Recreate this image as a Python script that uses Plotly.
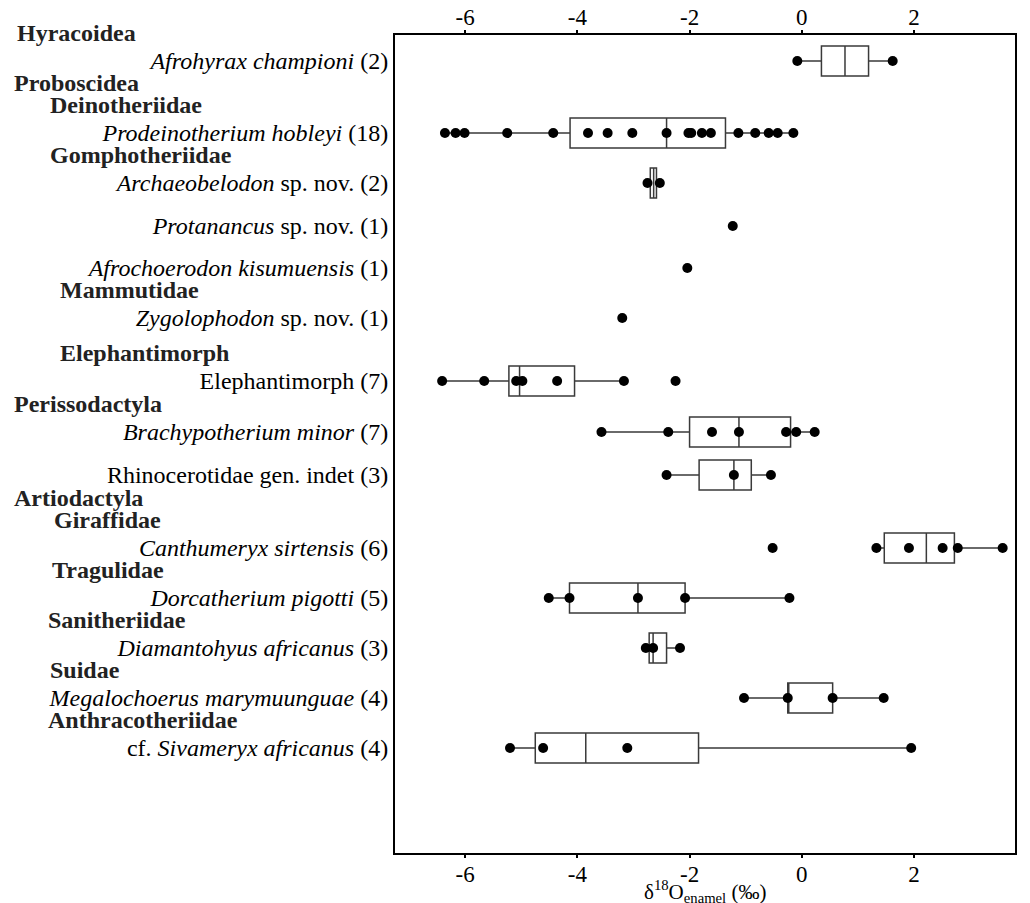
import plotly.graph_objects as go

# ---------------- data ----------------
species = [
    "<i>Afrohyrax championi</i> (2)",
    "<i>Prodeinotherium hobleyi</i> (18)",
    "<i>Archaeobelodon</i> sp. nov. (2)",
    "<i>Protanancus</i> sp. nov. (1)",
    "<i>Afrochoerodon kisumuensis</i> (1)",
    "<i>Zygolophodon</i> sp. nov. (1)",
    "Elephantimorph (7)",
    "<i>Brachypotherium minor</i> (7)",
    "Rhinocerotidae gen. indet (3)",
    "<i>Canthumeryx sirtensis</i> (6)",
    "<i>Dorcatherium pigotti</i> (5)",
    "<i>Diamantohyus africanus</i> (3)",
    "<i>Megalochoerus marymuunguae</i> (4)",
    "cf. <i>Sivameryx africanus</i> (4)",
]

# headers shown above each species row: (order-level, family-level)
order_headers = ["Hyracoidea", "Proboscidea", "", "", "", "", "", "Perissodactyla", "",
                 "Artiodactyla", "", "", "", ""]
family_headers = ["", "Deinotheriidae", "Gomphotheriidae", "", "", "Mammutidae", "Elephantimorph",
                  "", "", "Giraffidae", "Tragulidae", "Sanitheriidae", "Suidae", "Anthracotheriidae"]

values = [
    [-0.08, 1.62],
    [-6.36, -6.17, -6.01, -5.25, -4.43, -3.81, -3.46, -3.02, -2.41, -2.02, -1.97, -1.78, -1.62,
     -1.13, -0.83, -0.59, -0.43, -0.15],
    [-2.75, -2.53],
    [-1.23],
    [-2.04],
    [-3.20],
    [-6.41, -5.66, -5.09, -4.98, -4.36, -3.17, -2.25],
    [-3.57, -2.38, -1.60, -1.12, -0.28, -0.10, 0.23],
    [-2.41, -1.21, -0.55],
    [-0.52, 1.33, 1.91, 2.51, 2.78, 3.58],
    [-4.51, -4.14, -2.92, -2.08, -0.22],
    [-2.78, -2.65, -2.17],
    [-1.03, -0.25, 0.55, 1.46],
    [-5.20, -4.61, -3.11, 1.95],
]

# box statistics (None = no box drawn)
box_q1 = [0.35, -4.13, -2.70, None, None, None, -5.22, -2.00, -1.83, 1.47, -4.14, -2.72, -0.25, -4.75]
box_med = [0.77, -2.41, -2.64, None, None, None, -5.03, -1.12, -1.21, 2.22, -2.92, -2.65, -0.25, -3.85]
box_q3 = [1.19, -1.36, -2.59, None, None, None, -4.05, -0.20, -0.90, 2.72, -2.08, -2.41, 0.55, -1.84]
box_lo = [-0.08, -6.36, -2.75, None, None, None, -6.41, -3.57, -2.41, 1.33, -4.51, -2.78, -1.03, -5.20]
box_hi = [1.62, -0.15, -2.53, None, None, None, -3.17, 0.23, -0.55, 3.58, -0.22, -2.17, 1.46, 1.95]

x_ticks = [-6, -4, -2, 0, 2]

# ---------------- layout (rows in pixel-like units) ----------------
row_pos = [61, 133, 183, 226, 268, 318, 381, 432, 475, 548, 598, 648, 698, 748]
order_x = [15, 12, 12, 12, 12, 12, 12, 12, 12, 12, 12, 12, 12, 12]
family_x = [48, 48, 48, 48, 48, 58, 58, 52, 52, 52, 50, 46, 48, 46]

FONT = "Liberation Serif"
L, R, T, B = 395, 15, 35, 50
W, H = 1030, 903
pw = W - L - R
yr = [H - B, T]          # reversed y range in the same px-like units


def ypaper(v):
    return (yr[0] - v) / (yr[0] - yr[1])


fig = go.Figure()

for i, name in enumerate(species):
    if box_q1[i] is not None:
        fig.add_trace(go.Box(
            orientation="h", y=[row_pos[i]],
            q1=[box_q1[i]], median=[box_med[i]], q3=[box_q3[i]],
            lowerfence=[box_lo[i]], upperfence=[box_hi[i]],
            boxpoints=False, fillcolor="white", width=30,
            line=dict(color="#3a3a3a", width=1.5), whiskerwidth=0,
            showlegend=False, hoverinfo="skip"))
    fig.add_trace(go.Scatter(
        x=values[i], y=[row_pos[i]] * len(values[i]), mode="markers",
        marker=dict(color="black", size=10), showlegend=False, hoverinfo="skip"))

# invisible trace for the top axis
fig.add_trace(go.Scatter(x=[x_ticks[0]], y=[row_pos[0]], xaxis="x2", mode="markers",
                         marker=dict(opacity=0), showlegend=False, hoverinfo="skip"))

xr = [-7.25, 3.8]
axis_common = dict(range=xr, tickvals=x_ticks, ticktext=[str(v) for v in x_ticks],
                   ticks="outside", ticklen=3, tickwidth=1.5, tickcolor="black",
                   showgrid=False, zeroline=False, automargin=False, ticklabelstandoff=-4,
                   tickfont=dict(family=FONT, size=23, color="black"))

annotations = []
for i in range(len(species)):
    if order_headers[i]:
        off = 50 if family_headers[i] else 28
        annotations.append(dict(text="<b>%s</b>" % order_headers[i], xref="paper", yref="paper",
                                x=(order_x[i] - L) / pw, y=ypaper(row_pos[i] - off), xanchor="left",
                                yanchor="middle", showarrow=False,
                                font=dict(family=FONT, size=24, color="#222")))
    if family_headers[i]:
        annotations.append(dict(text="<b>%s</b>" % family_headers[i], xref="paper", yref="paper",
                                x=(family_x[i] - L) / pw, y=ypaper(row_pos[i] - 28), xanchor="left",
                                yanchor="middle", showarrow=False,
                                font=dict(family=FONT, size=24, color="#222")))

annotations.append(dict(text="δ<sup>18</sup>O<sub>enamel</sub> (‰)", xref="paper", yref="paper",
                        x=0.5, y=0, yshift=-38, xanchor="center", yanchor="middle", showarrow=False,
                        font=dict(family=FONT, size=21, color="black")))

fig.update_layout(
    width=W, height=H, margin=dict(l=L, r=R, t=T, b=B, autoexpand=False),
    paper_bgcolor="white", plot_bgcolor="white",
    xaxis=dict(**axis_common, side="bottom", showline=True, linecolor="black", linewidth=2,
               mirror=False),
    xaxis2=dict(**axis_common, side="top", overlaying="x", showline=True, linecolor="black",
                linewidth=2),
    yaxis=dict(range=yr, tickvals=row_pos, ticktext=species, showline=True, automargin=False,
               linecolor="black", linewidth=2, mirror=True, ticks="", showgrid=False,
               zeroline=False, tickfont=dict(family=FONT, size=24, color="black")),
    annotations=annotations,
)

fig.write_html("out.html", config={"displayModeBar": False},
               post_script="document.body.style.margin='0';")
